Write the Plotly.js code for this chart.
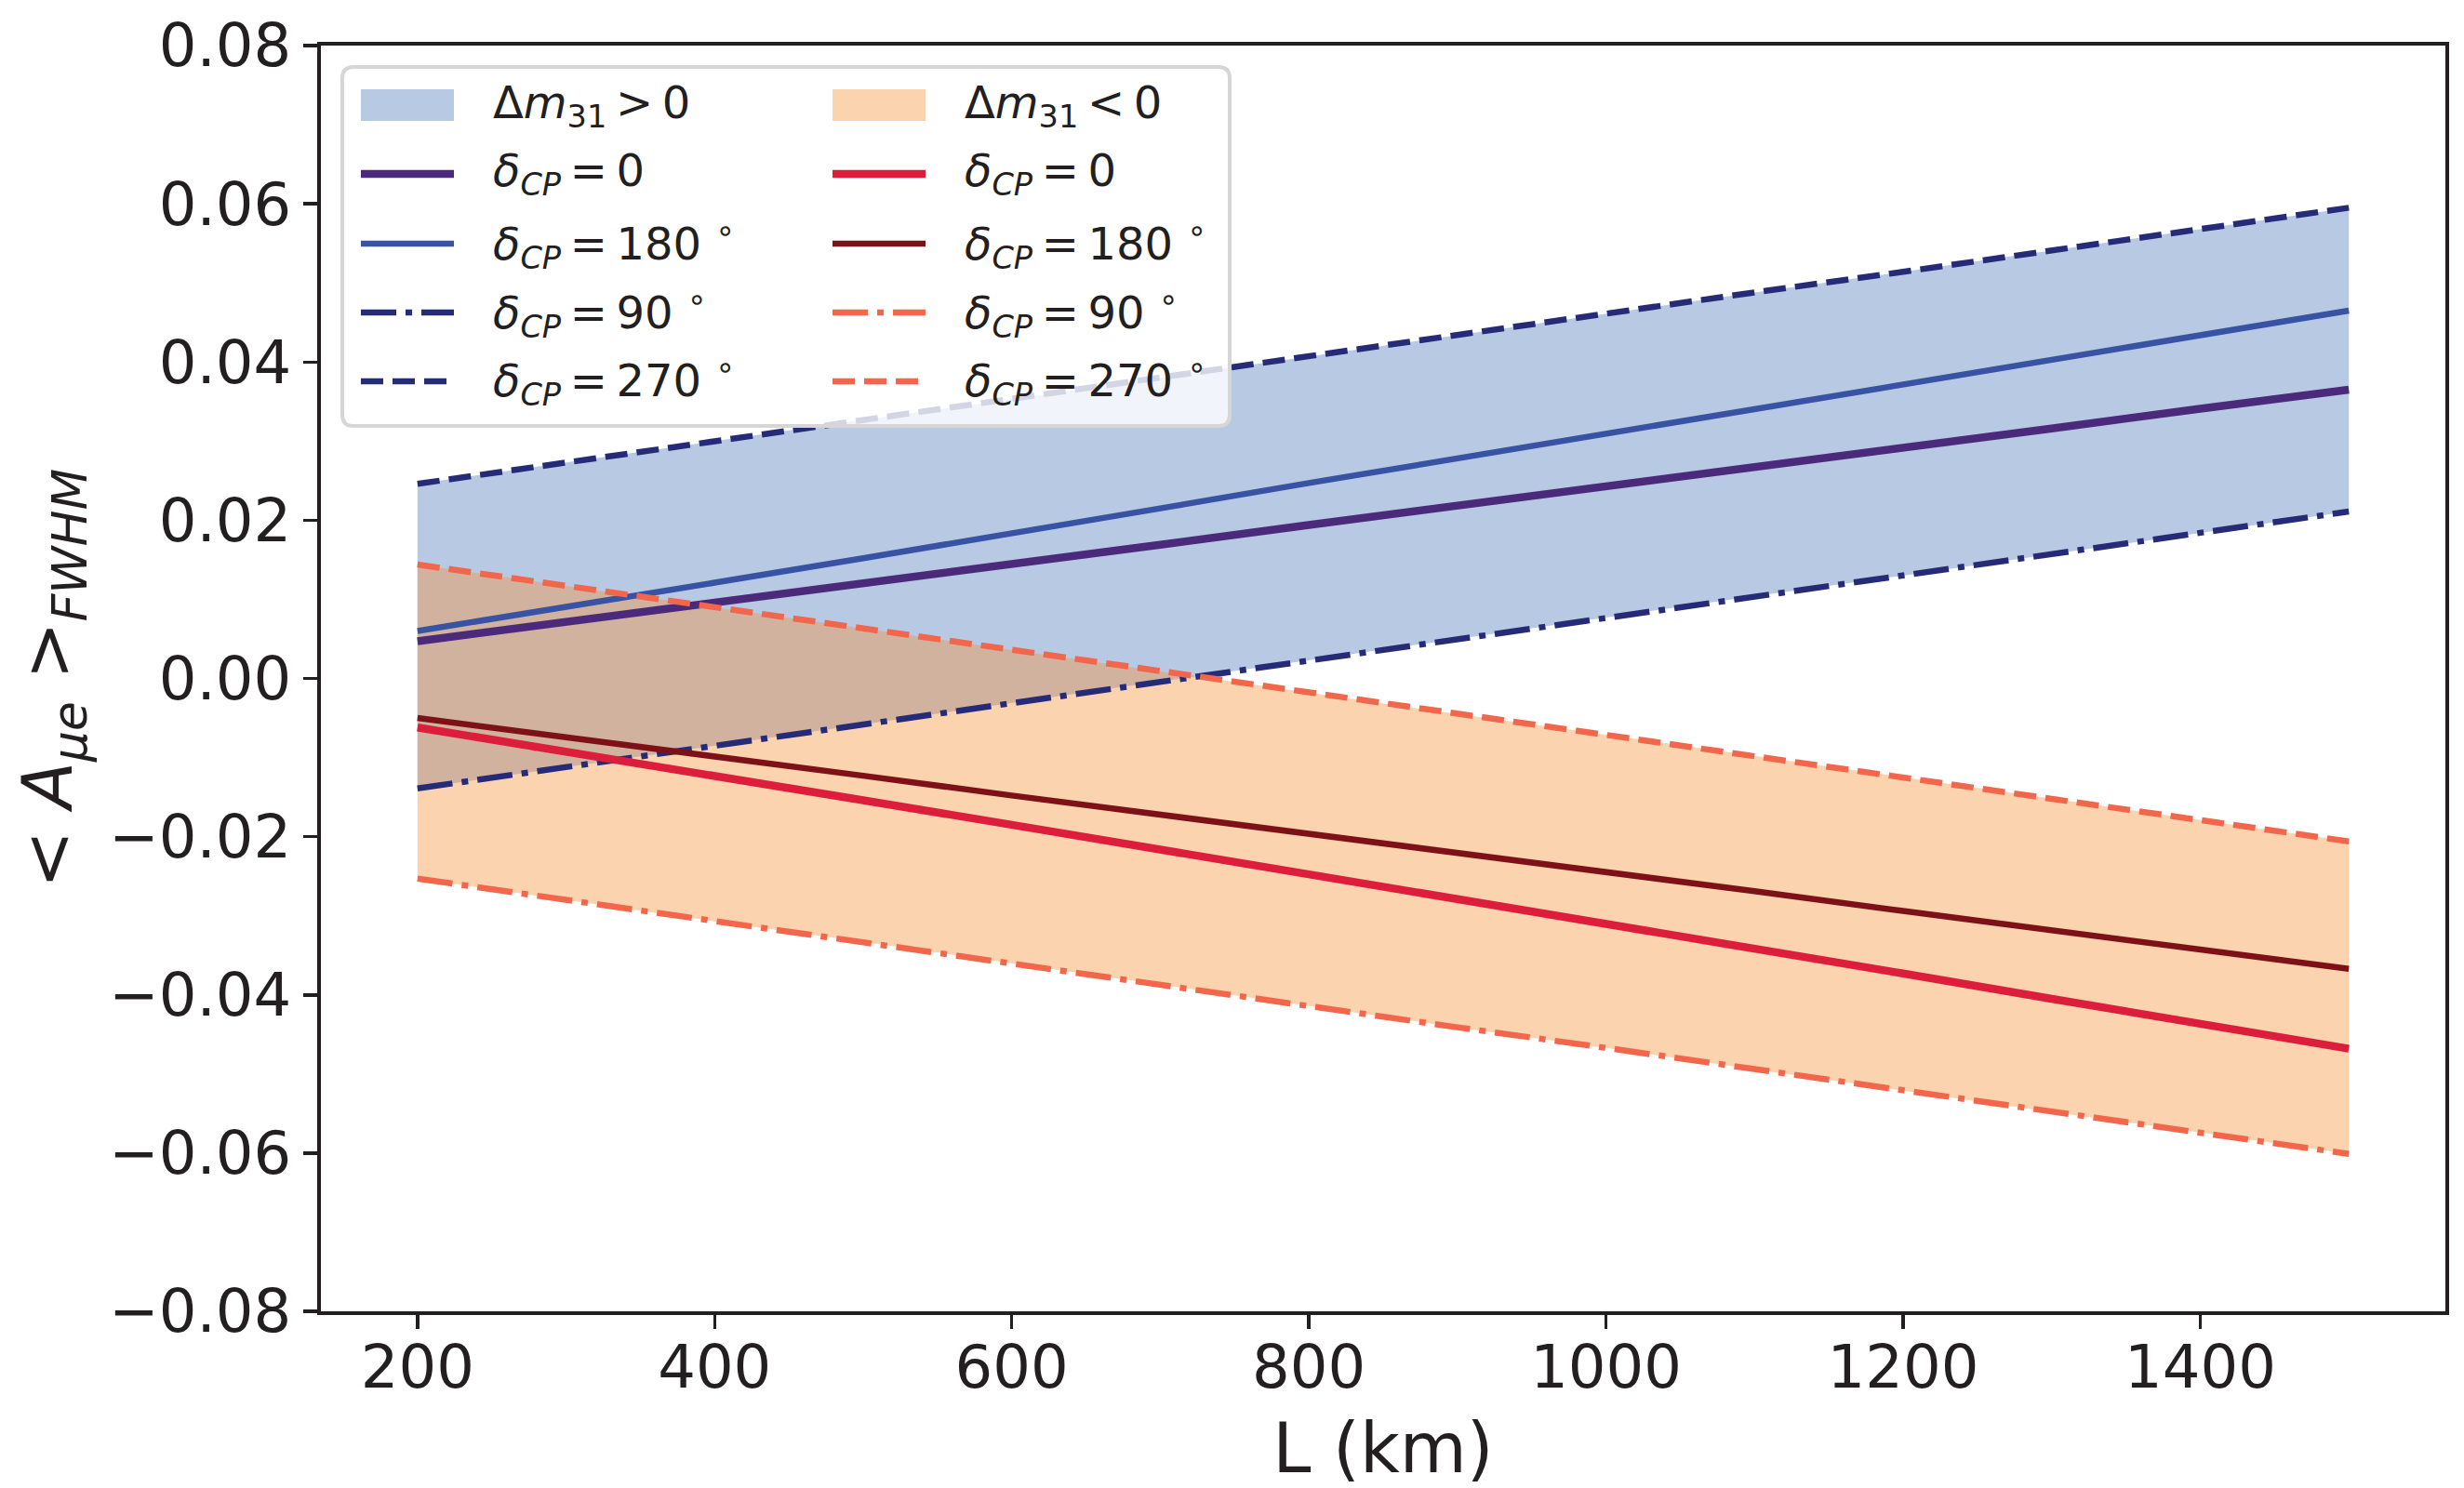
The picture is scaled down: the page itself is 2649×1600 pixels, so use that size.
<!DOCTYPE html>
<html>
<head>
<meta charset="utf-8">
<script src="https://cdn.plot.ly/plotly-3.0.1.min.js"></script>
<style>
  body { margin: 0; background: #fff; }
  #plot { width: 2649px; height: 1600px; }
</style>
</head>
<body>
<div id="plot"></div>
<script>
// baseline L (km)
const L = [200, 300, 400, 500, 600, 700, 800, 900, 1000, 1100, 1200, 1300, 1400, 1500];

// normal hierarchy (dm31 > 0)
const nh_d0   = [0.0047, 0.0071, 0.0096, 0.0120, 0.0145, 0.0169, 0.0194, 0.0218, 0.0243, 0.0267, 0.0292, 0.0316, 0.0341, 0.0365];
const nh_d180 = [0.0060, 0.0090, 0.0121, 0.0152, 0.0183, 0.0215, 0.0247, 0.0278, 0.0309, 0.0340, 0.0371, 0.0402, 0.0434, 0.0465];
const nh_d90  = [-0.0139, -0.0112, -0.0085, -0.0058, -0.0031, -0.0004, 0.0023, 0.0050, 0.0077, 0.0104, 0.0130, 0.0157, 0.0184, 0.0211];
const nh_d270 = [0.0246, 0.0273, 0.0300, 0.0327, 0.0353, 0.0380, 0.0407, 0.0434, 0.0461, 0.0488, 0.0514, 0.0541, 0.0568, 0.0595];

// inverted hierarchy (dm31 < 0)
const ih_d0   = [-0.0062, -0.0092, -0.0123, -0.0154, -0.0185, -0.0216, -0.0247, -0.0279, -0.0310, -0.0342, -0.0373, -0.0405, -0.0437, -0.0468];
const ih_d180 = [-0.0050, -0.0074, -0.0099, -0.0123, -0.0148, -0.0172, -0.0196, -0.0221, -0.0245, -0.0269, -0.0294, -0.0318, -0.0343, -0.0367];
const ih_d90  = [-0.0253, -0.0280, -0.0307, -0.0333, -0.0360, -0.0387, -0.0414, -0.0441, -0.0467, -0.0494, -0.0521, -0.0548, -0.0574, -0.0601];
const ih_d270 = [0.0144, 0.0117, 0.0090, 0.0063, 0.0036, 0.0009, -0.0018, -0.0045, -0.0071, -0.0098, -0.0125, -0.0152, -0.0179, -0.0206];

const xTicks = [200, 400, 600, 800, 1000, 1200, 1400];
const yTicks = [-0.08, -0.06, -0.04, -0.02, 0.00, 0.02, 0.04, 0.06, 0.08];

const FONT = 'DejaVu Sans';
const INK = '#231f20';

const fill_nh = 'rgba(78,120,185,0.4)';
const fill_ih = 'rgba(245,145,55,0.4)';
const c_purple = '#4b2a7b';
const c_blue = '#3953a4';
const c_navy = '#262b78';
const c_red = '#dc1e3c';
const c_darkred = '#7e1117';
const c_coral = '#f2664b';

const DASH = '24px,10px';
const DASHDOT = '38px,10px,7px,10px';
const THICK = 8.5, THIN = 6.5;

function band(lo, hi, color) {
    return [
        { x: L, y: lo, type: 'scatter', mode: 'lines', line: { width: 0 }, showlegend: false, hoverinfo: 'skip' },
        { x: L, y: hi, type: 'scatter', mode: 'lines', line: { width: 0 }, fill: 'tonexty',
          fillcolor: color, showlegend: false, hoverinfo: 'skip' }
    ];
}

function curve(y, color, width, dash) {
    return { x: L, y: y, type: 'scatter', mode: 'lines', showlegend: false,
             line: { color: color, width: width, dash: dash || 'solid' } };
}

const traces = [].concat(
    band(nh_d90, nh_d270, fill_nh),
    band(ih_d90, ih_d270, fill_ih),
    [
        curve(nh_d0, c_purple, THICK),
        curve(nh_d180, c_blue, THIN),
        curve(nh_d90, c_navy, THIN, DASHDOT),
        curve(nh_d270, c_navy, THIN, DASH),
        curve(ih_d0, c_red, THICK),
        curve(ih_d180, c_darkred, THIN),
        curve(ih_d90, c_coral, THIN, DASHDOT),
        curve(ih_d270, c_coral, THIN, DASH)
    ]
);

// pixel -> paper helpers for the legend box
const W = 2649, H = 1600;
const M = { l: 345, r: 20, t: 49, b: 190 };
const PW = W - M.l - M.r, PH = H - M.t - M.b;
function px(x) { return (x - M.l) / PW; }
function py(y) { return (H - M.b - y) / PH; }

function roundRect(x0, y0, x1, y1, r) {
    const kx = r / PW, ky = r / PH;
    const a = px(x0), b = px(x1), t = py(y0), u = py(y1);
    return 'M' + (a + kx) + ',' + t +
        ' L' + (b - kx) + ',' + t + ' Q' + b + ',' + t + ' ' + b + ',' + (t - ky) +
        ' L' + b + ',' + (u + ky) + ' Q' + b + ',' + u + ' ' + (b - kx) + ',' + u +
        ' L' + (a + kx) + ',' + u + ' Q' + a + ',' + u + ' ' + a + ',' + (u + ky) +
        ' L' + a + ',' + (t - ky) + ' Q' + a + ',' + t + ' ' + (a + kx) + ',' + t + ' Z';
}

// thin spaces around "=" like mathtext
function dcp(v) { return '<i>δ</i><sub><i>CP</i></sub>\u2009=\u2009' + v; }
const deg = '<sup>∘</sup>';

const legendCols = [
    { sx: 388, tx: 528, items: [
        { text: 'Δ<i>m</i><sub>31</sub>\u2009&gt;\u20090', fill: fill_nh },
        { text: dcp('0'), color: c_purple, width: THICK },
        { text: dcp('180 ' + deg), color: c_blue, width: THIN },
        { text: dcp('90 ' + deg), color: c_navy, width: THIN, dash: DASHDOT },
        { text: dcp('270 ' + deg), color: c_navy, width: THIN, dash: DASH }
    ] },
    { sx: 895, tx: 1035, items: [
        { text: 'Δ<i>m</i><sub>31</sub>\u2009&lt;\u20090', fill: fill_ih },
        { text: dcp('0'), color: c_red, width: THICK },
        { text: dcp('180 ' + deg), color: c_darkred, width: THIN },
        { text: dcp('90 ' + deg), color: c_coral, width: THIN, dash: DASHDOT },
        { text: dcp('270 ' + deg), color: c_coral, width: THIN, dash: DASH }
    ] }
];
const rowY = [113, 187, 262, 336, 410];

const shapes = [{
    type: 'path', xref: 'paper', yref: 'paper', layer: 'above',
    path: roundRect(368, 72, 1322, 458, 12),
    fillcolor: 'rgba(255,255,255,0.8)', line: { color: '#d6d6d6', width: 4 }
}];
const annotations = [];

legendCols.forEach(function (col) {
    col.items.forEach(function (it, i) {
        const y = rowY[i];
        if (it.fill) {
            shapes.push({ type: 'rect', xref: 'paper', yref: 'paper', layer: 'above',
                x0: px(col.sx), x1: px(col.sx + 100), y0: py(y - 17), y1: py(y + 17),
                fillcolor: it.fill, line: { width: 0 } });
        } else {
            shapes.push({ type: 'line', xref: 'paper', yref: 'paper', layer: 'above',
                x0: px(col.sx), x1: px(col.sx + 100), y0: py(y), y1: py(y),
                line: { color: it.color, width: it.width, dash: it.dash || 'solid' } });
        }
        annotations.push({ xref: 'paper', yref: 'paper', x: px(col.tx), y: py(y),
            xanchor: 'left', yanchor: 'middle', showarrow: false, text: it.text,
            font: { family: FONT, size: 48, color: INK } });
    });
});

const axisCommon = {
    showline: true, mirror: true, linecolor: INK, linewidth: 4,
    ticks: 'outside', ticklen: 15, tickwidth: 3.5, tickcolor: INK,
    showgrid: false, zeroline: false,
    tickfont: { family: FONT, size: 64, color: INK }
};

const layout = {
    width: W, height: H,
    margin: M,
    paper_bgcolor: '#fff', plot_bgcolor: '#fff',
    showlegend: false,
    xaxis: Object.assign({}, axisCommon, {
        range: [135, 1565], tickvals: xTicks, ticklabelstandoff: -14,
        title: { text: 'L (km)', font: { family: FONT, size: 74, color: INK }, standoff: 30 }
    }),
    yaxis: Object.assign({}, axisCommon, {
        range: [-0.08, 0.08], tickvals: yTicks, tickformat: '.2f',
        title: { text: '&lt; <i>A</i><sub><i>μe</i></sub> &gt;<sub><i>FWHM</i></sub>',
                 font: { family: FONT, size: 74, color: INK }, standoff: 16 }
    }),
    shapes: shapes,
    annotations: annotations
};

Plotly.newPlot('plot', traces, layout, { staticPlot: true });
</script>
</body>
</html>
